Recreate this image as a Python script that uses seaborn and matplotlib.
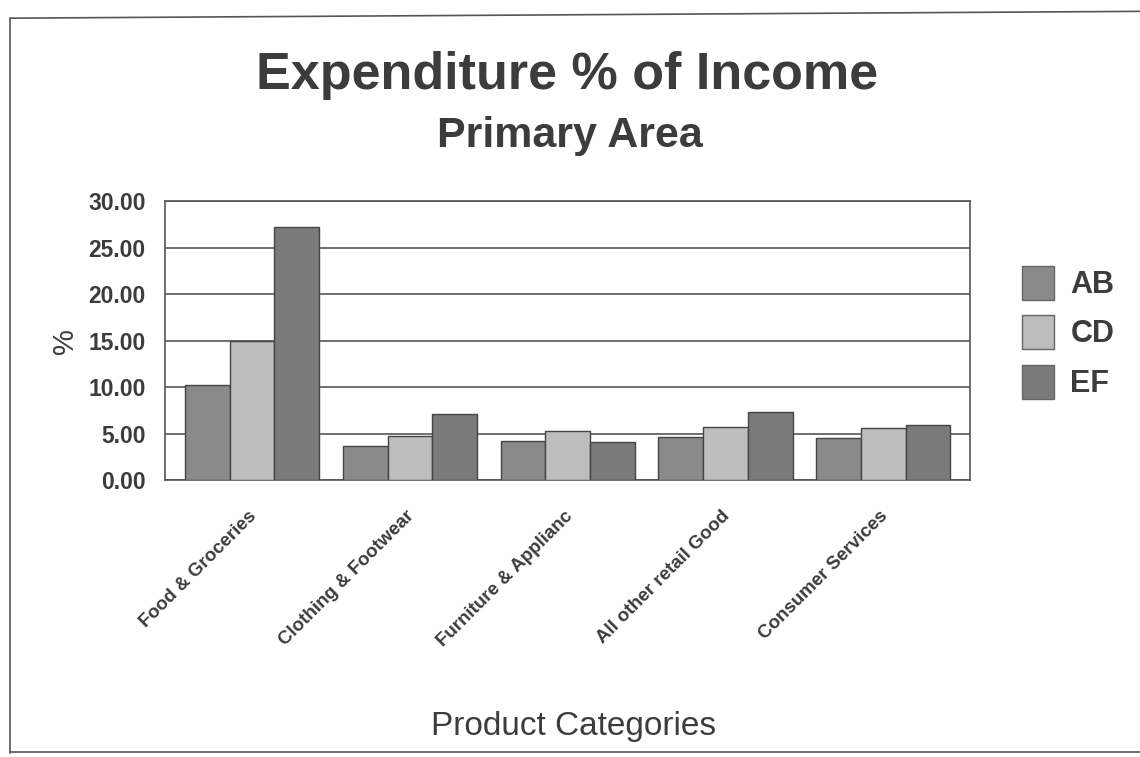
import matplotlib
matplotlib.use("Agg")
import matplotlib.pyplot as plt
import matplotlib.transforms as mtransforms
import seaborn as sns
import pandas as pd
from matplotlib.patches import Patch
from matplotlib.lines import Line2D

categories = ["Food & Groceries", "Clothing & Footwear", "Furniture & Applianc",
              "All other retail Good", "Consumer Services"]
groups = ["AB", "CD", "EF"]
ab_values = [10.2, 3.7, 4.2, 4.6, 4.5]
cd_values = [15.0, 4.7, 5.3, 5.7, 5.6]
ef_values = [27.2, 7.1, 4.1, 7.3, 5.9]
y_ticks = [0, 5, 10, 15, 20, 25, 30]

colors = {"AB": "#8a8a8a", "CD": "#bdbdbd", "EF": "#7a7a7a"}
text_color = "#3c3c3c"

rows = []
for g, vals in zip(groups, [ab_values, cd_values, ef_values]):
    for c, v in zip(categories, vals):
        rows.append({"category": c, "group": g, "value": v})
df = pd.DataFrame(rows)

sns.set_style("white")
plt.rcParams["font.family"] = ["Liberation Sans", "DejaVu Sans"]

fig = plt.figure(figsize=(11.4, 7.57), dpi=100)
ax = fig.add_axes([0.145, 0.366, 0.706, 0.368])

sns.barplot(data=df, x="category", y="value", hue="group", order=categories,
            hue_order=groups, palette=colors, width=0.85, edgecolor="#444444",
            linewidth=1.0, ax=ax, legend=False, zorder=3)

ax.set_ylim(0, 30)
ax.set_xlim(-0.55, 4.55)
ax.set_yticks(y_ticks)
ax.set_yticklabels([f"{t:.2f}" for t in y_ticks], fontsize=16.5, fontweight="bold",
                   color=text_color)
ax.set_xticks(range(len(categories)))
ax.set_xticklabels(categories, rotation=45, ha="right", rotation_mode="anchor",
                   fontsize=13.5, fontweight="bold", color=text_color)
ax.tick_params(axis="x", length=0, pad=20)
ax.tick_params(axis="y", length=0, pad=14)
shift = mtransforms.ScaledTranslation(-4 / 100, 0, fig.dpi_scale_trans)
for lbl in ax.get_xticklabels():
    lbl.set_transform(lbl.get_transform() + shift)
ax.yaxis.grid(True, color="#555555", linewidth=1.2, zorder=0)
ax.set_axisbelow(True)
for s in ax.spines.values():
    s.set_color("#555555")
    s.set_linewidth(1.2)
ax.set_xlabel("")
ax.set_ylabel("%", fontsize=21, color=text_color, labelpad=7)

fig.text(0.497, 0.900, "Expenditure % of Income", ha="center", va="center",
         fontsize=37.5, fontweight="bold", color=text_color)
fig.text(0.500, 0.820, "Primary Area", ha="center", va="center",
         fontsize=31, fontweight="bold", color=text_color)
fig.text(0.503, 0.040, "Product Categories", ha="center", va="center",
         fontsize=24, color=text_color)

handles = [Patch(facecolor=colors[g], edgecolor="#666666") for g in groups]
fig.legend(handles, groups, loc="center left", bbox_to_anchor=(0.872, 0.561),
           frameon=False, handlelength=1.05, handleheight=1.35,
           labelspacing=0.5, handletextpad=0.55,
           prop={"weight": "bold", "size": 22})
for t in fig.legends[0].get_texts():
    t.set_color(text_color)

# outer chart border
fig.add_artist(Line2D([0.009, 1.0], [0.976, 0.985], color="#555555", lw=1.2,
                      transform=fig.transFigure))
fig.add_artist(Line2D([0.009, 0.009], [0.005, 0.976], color="#555555", lw=1.2,
                      transform=fig.transFigure))
fig.add_artist(Line2D([0.009, 1.0], [0.006, 0.006], color="#555555", lw=1.2,
                      transform=fig.transFigure))

fig.savefig("out.png", dpi=100, facecolor="white")
